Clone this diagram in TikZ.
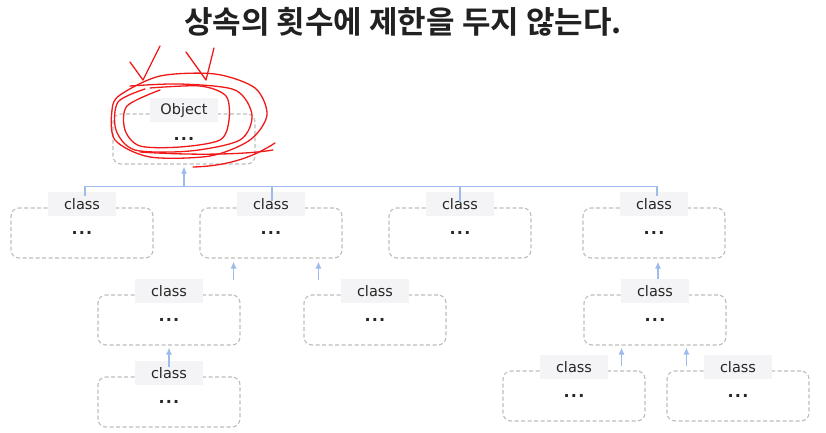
\documentclass[tikz,border=0pt]{standalone}
\usepackage{fontspec}
\setmainfont{DejaVu Sans}
\newfontfamily\krfont{Noto Sans CJK KR}[BoldFont={Noto Sans CJK KR Bold}]
\usepackage{tikz}
\usetikzlibrary{arrows.meta}

\definecolor{boxgray}{HTML}{BDBDBD}
\definecolor{tagfill}{HTML}{F4F4F6}
\definecolor{linkblue}{HTML}{9DBBEB}
\definecolor{inkred}{HTML}{F01818}

\newcommand{\etc}{\bfseries .\kern1.2pt.\kern1.2pt.}

\tikzset{
  classbox/.style={draw=boxgray, dash pattern=on 4pt off 2.5pt, line width=1.1pt,
    rounded corners=8pt, minimum width=142pt, minimum height=50pt,
    font=\fontsize{16}{18}\selectfont, text=black!85},
  tag/.style={fill=tagfill, minimum width=68pt, minimum height=24pt, inner sep=0pt,
    font=\fontsize{14.5}{16}\selectfont, text=black!85},
  link/.style={draw=linkblue, line width=1.1pt},
  inherit/.style={link, -{Latex[length=7pt,width=6pt]}},
  scribble/.style={draw=inkred, line width=1.3pt, line cap=round, line join=round}
}

\begin{document}
\begin{tikzpicture}[x=1pt,y=-1pt]
\useasboundingbox (0,0) rectangle (826,433);

% titre
\node[font=\krfont\bfseries\fontsize{31}{34}\selectfont, text=black!87] (title) at (403,22)
  {상속의 횟수에 제한을 두지 않는다.};

% la racine
\node[classbox] (obj) at (184,139) {\etc};
\node[tag] (obj-t) at ([yshift=3pt]obj.north) {Object};

% les classes
\foreach \n/\x/\y in {a/82/233, b/271/233, c/460/233, d/654/233,
    e/169/320, f/375/320, g/655/320, h/169/402, i/574/396, j/738/396}{
  \node[classbox] (\n) at (\x,\y) {\etc};
  \node[tag] (\n-t) at ([yshift=3pt]\n.north) {class};
}

% liens vers Object
\coordinate (hub) at ([yshift=-22pt]obj.south);
\draw[inherit] (hub) -- ([yshift=-2pt]obj.south);
\draw[link] ([shift={(3pt,-4pt)}]a-t.north) |- (hub) -| ([shift={(3pt,-4pt)}]d-t.north);
\draw[link] ([shift={(1pt,-9pt)}]b-t.north) -- ([xshift=1pt]b-t.north |- hub);
\draw[link] ([yshift=-10pt]c-t.north) -- (c-t.north |- hub);

% liens entre classes
\draw[inherit] ([shift={(-7pt,14pt)}]e.north east) -- ([shift={(-7pt,-3pt)}]e.north east |- b.south);
\draw[inherit] ([shift={(15pt,14pt)}]f.north west) -- ([shift={(15pt,-3pt)}]f.north west |- b.south);
\draw[inherit] ([xshift=3pt]g-t.north) -- ([shift={(3pt,-3pt)}]g-t.north |- d.south);
\draw[inherit] ([yshift=-6pt]h-t.north) -- ([yshift=-2pt]h-t.north |- e.south);
\draw[inherit] ([shift={(-24pt,4pt)}]i.north east) -- ([shift={(-24pt,-2pt)}]i.north east |- g.south);
\draw[inherit] ([shift={(20pt,4pt)}]j.north west) -- ([shift={(20pt,-2pt)}]j.north west |- g.south);

% gribouillis rouge
\draw[scribble] plot[smooth cycle] coordinates {(120,95) (160,76) (215,74) (255,88)
  (267,115) (250,140) (210,156) (150,157) (115,140) (112,110)};
\draw[scribble] plot[smooth] coordinates {(130,86) (180,84) (235,90) (252,115)
  (240,140) (190,151) (135,150) (116,130) (118,102) (145,89)};
\draw[scribble] plot[smooth] coordinates {(150,88) (200,86) (226,96) (229,120)
  (220,140) (180,147) (140,146) (125,130) (127,106) (160,90)};
\draw[scribble] (193,167) .. controls (230,166) and (255,156) .. (275,143);
\draw[scribble] (140,152) .. controls (200,156) and (250,154) .. (273,150);
\draw[scribble] (130,62) -- (143,80) -- (160,46);
\draw[scribble] (186,52) -- (206,80) -- (214,48);
\end{tikzpicture}
\end{document}
